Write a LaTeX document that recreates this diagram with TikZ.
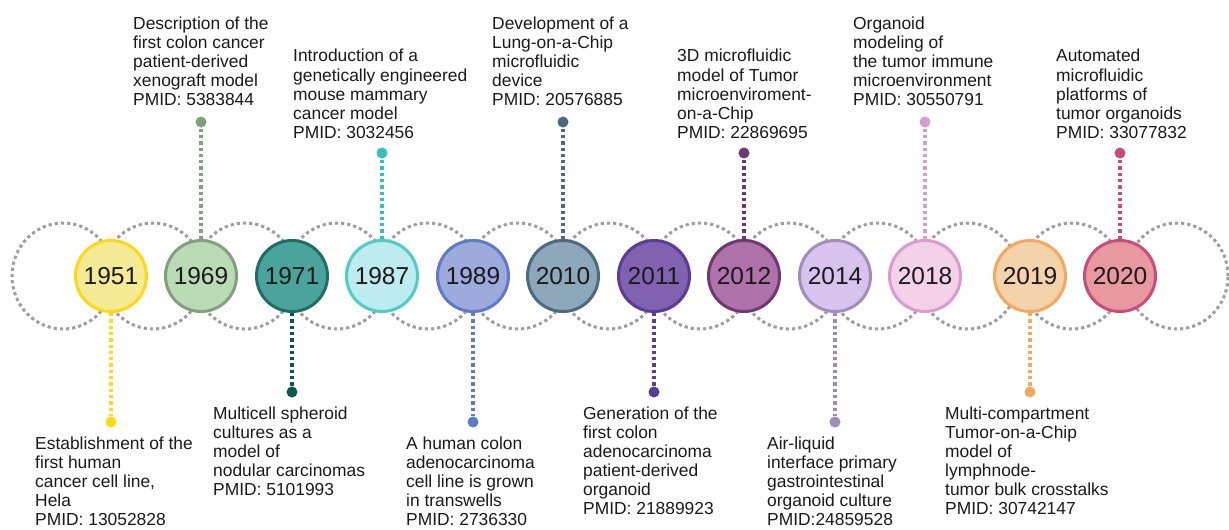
\documentclass[tikz,border=0pt]{standalone}
\usepackage{fontspec}
\setmainfont{Liberation Sans}
\usepackage{tikz}

\definecolor{ringgray}{HTML}{9E9E9E}
\definecolor{textblack}{HTML}{1A1A1A}
\definecolor{f1951}{HTML}{F6EB95} \definecolor{b1951}{HTML}{FFD814} \definecolor{s1951}{HTML}{FFDA10}
\definecolor{f1969}{HTML}{BBDBB7} \definecolor{b1969}{HTML}{82A07E} \definecolor{s1969}{HTML}{82A07E}
\definecolor{f1971}{HTML}{4BA49C} \definecolor{b1971}{HTML}{1E6E66} \definecolor{s1971}{HTML}{065A52}
\definecolor{f1987}{HTML}{BEEBF0} \definecolor{b1987}{HTML}{4DCDC3} \definecolor{s1987}{HTML}{33C1B8}
\definecolor{f1989}{HTML}{9DAADB} \definecolor{b1989}{HTML}{5D7BC8} \definecolor{s1989}{HTML}{5D7BC8}
\definecolor{f2010}{HTML}{8DA8BB} \definecolor{b2010}{HTML}{4B6980} \definecolor{s2010}{HTML}{4B6980}
\definecolor{f2011}{HTML}{8062AE} \definecolor{b2011}{HTML}{5C3B98} \definecolor{s2011}{HTML}{5C3B98}
\definecolor{f2012}{HTML}{AF72AA} \definecolor{b2012}{HTML}{703872} \definecolor{s2012}{HTML}{703872}
\definecolor{f2014}{HTML}{D8C3EF} \definecolor{b2014}{HTML}{A38DB8} \definecolor{s2014}{HTML}{A08AB8}
\definecolor{f2018}{HTML}{F3D1E9} \definecolor{b2018}{HTML}{D99CD1} \definecolor{s2018}{HTML}{D99CD1}
\definecolor{f2019}{HTML}{F4D2AA} \definecolor{b2019}{HTML}{F4AA5C} \definecolor{s2019}{HTML}{F4AA5C}
\definecolor{f2020}{HTML}{E8989F} \definecolor{b2020}{HTML}{C94D79} \definecolor{s2020}{HTML}{C94D79}

\begin{document}
\begin{tikzpicture}
  [x=1pt, y=-1pt,
   ring/.style={draw=ringgray, line width=3pt, dash pattern=on 3.2pt off 3pt},
   year/.style={circle, minimum size=71pt, inner sep=0pt, line width=3pt,
     text=textblack, font=\fontsize{24.5}{28}\selectfont},
   stem/.style={line width=3.3pt, dash pattern=on 3.3pt off 3pt},
   pindot/.style={circle, minimum size=11pt, inner sep=0pt},
   blurb/.style={anchor=north west, inner sep=0pt, align=left,
     text=textblack, font=\fontsize{17.4}{19.1}\selectfont}]
  \useasboundingbox (0,0) rectangle (1229,530);

  \foreach \cx in {63,153,245,337,428,518,609,700,789,878,968,1072,1177}
  \draw[ring] (\cx,276) ellipse [x radius=51pt, y radius=53pt];

  \node[year, fill=f1951, draw=b1951] (y1951) at (111,276) {1951};
  \node[year, fill=f1969, draw=b1969] (y1969) at (201,276) {1969};
  \node[year, fill=f1971, draw=b1971] (y1971) at (292,276) {1971};
  \node[year, fill=f1987, draw=b1987] (y1987) at (382,276) {1987};
  \node[year, fill=f1989, draw=b1989] (y1989) at (473,276) {1989};
  \node[year, fill=f2010, draw=b2010] (y2010) at (563,276) {2010};
  \node[year, fill=f2011, draw=b2011] (y2011) at (654,276) {2011};
  \node[year, fill=f2012, draw=b2012] (y2012) at (744,276) {2012};
  \node[year, fill=f2014, draw=b2014] (y2014) at (835,276) {2014};
  \node[year, fill=f2018, draw=b2018] (y2018) at (925,276) {2018};
  \node[year, fill=f2019, draw=b2019] (y2019) at (1030,276) {2019};
  \node[year, fill=f2020, draw=b2020] (y2020) at (1120,276) {2020};

  \node[pindot, fill=s1951] (d1951) at (y1951 |- 0,422) {};
  \node[pindot, fill=s1969] (d1969) at (y1969 |- 0,122) {};
  \node[pindot, fill=s1971] (d1971) at (y1971 |- 0,392) {};
  \node[pindot, fill=s1987] (d1987) at (y1987 |- 0,153) {};
  \node[pindot, fill=s1989] (d1989) at (y1989 |- 0,422) {};
  \node[pindot, fill=s2010] (d2010) at (y2010 |- 0,122) {};
  \node[pindot, fill=s2011] (d2011) at (y2011 |- 0,392) {};
  \node[pindot, fill=s2012] (d2012) at (y2012 |- 0,153) {};
  \node[pindot, fill=s2014] (d2014) at (y2014 |- 0,422) {};
  \node[pindot, fill=s2018] (d2018) at (y2018 |- 0,122) {};
  \node[pindot, fill=s2019] (d2019) at (y2019 |- 0,392) {};
  \node[pindot, fill=s2020] (d2020) at (y2020 |- 0,153) {};

  \foreach \yr in {1951,1969,1971,1987,1989,2010,2011,2012,2014,2018,2019,2020}
  \draw[stem, draw=s\yr] (y\yr) -- (d\yr);

  % upper events
  \node[blurb] (t1969) at (133,16.4) {Description of the\\first colon cancer\\patient-derived\\xenograft model\\PMID: 5383844};
  \node[blurb] (t1987) at (293,49.1) {Introduction of a\\genetically engineered\\mouse mammary\\cancer model\\PMID: 3032456};
  \node[blurb] (t2010) at (492,16.4) {Development of a\\Lung-on-a-Chip\\microfluidic\\device\\PMID: 20576885};
  \node[blurb] (t2012) at (677,49.1) {3D microfluidic\\model of Tumor\\microenviroment-\\on-a-Chip\\PMID: 22869695};
  \node[blurb] (t2018) at (853,16.4) {Organoid\\modeling of\\the tumor immune\\microenvironment\\PMID: 30550791};
  \node[blurb] (t2020) at (1056,49.1) {Automated\\microfluidic\\platforms of\\tumor organoids\\PMID: 33077832};

  % lower events
  \node[blurb] (t1951) at (35,436.4) {Establishment of the\\first human\\cancer cell line,\\Hela\\PMID: 13052828};
  \node[blurb] (t1971) at (213,406.4) {Multicell spheroid\\cultures as a\\model of\\nodular carcinomas\\PMID: 5101993};
  \node[blurb] (t1989) at (406,436.4) {A human colon\\adenocarcinoma\\cell line is grown\\in transwells\\PMID: 2736330};
  \node[blurb] (t2011) at (583,406.4) {Generation of the\\first colon\\adenocarcinoma\\patient-derived\\organoid\\PMID: 21889923};
  \node[blurb] (t2014) at (767,436.4) {Air-liquid\\interface primary\\gastrointestinal\\organoid culture\\PMID:24859528};
  \node[blurb] (t2019) at (945,406.4) {Multi-compartment\\Tumor-on-a-Chip\\model of\\lymphnode-\\tumor bulk crosstalks\\PMID: 30742147};
\end{tikzpicture}
\end{document}
